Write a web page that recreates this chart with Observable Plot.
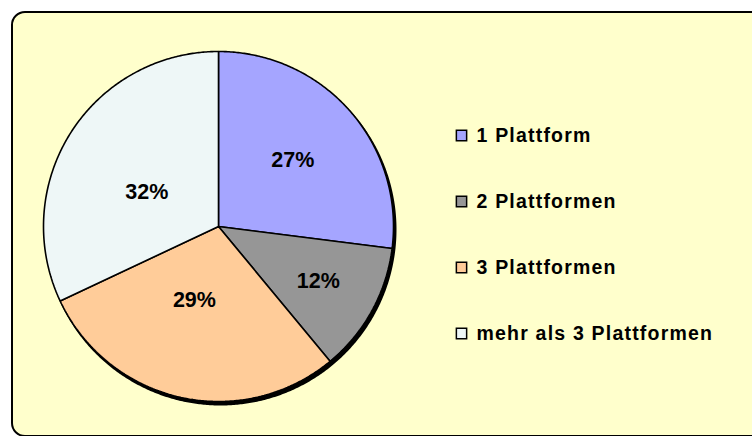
<!DOCTYPE html>
<html>
<head>
<meta charset="utf-8">
<script src="https://cdn.jsdelivr.net/npm/d3@7"></script>
<script src="https://cdn.jsdelivr.net/npm/@observablehq/plot@0.6"></script>
<style>
  html, body { margin: 0; padding: 0; background: #ffffff; overflow: hidden; }
  #wrap { position: relative; width: 752px; height: 436px; overflow: hidden; }
  #frame { position: absolute; left: 11px; top: 11px; width: 820px; height: 426px;
           box-sizing: border-box; background: #FFFFCC; border: 2px solid #000; border-radius: 14px; }
  #chart { position: absolute; left: 0; top: 0; }
  #chart svg { background: transparent; }
</style>
</head>
<body>
<div id="wrap"><div id="frame"></div><div id="chart"></div></div>
<script>
// ---- data ----
const categories = ["1 Plattform", "2 Plattformen", "3 Plattformen", "mehr als 3 Plattformen"];
const values = [27, 12, 29, 32];
const percentLabels = ["27%", "12%", "29%", "32%"];
const colors = ["#A5A5FF", "#969696", "#FFCC99", "#EEF7F7"];

// ---- layout (pixels) ----
const W = 752, H = 436;
const cx = 218, cy = 226, R = 175;
const labelNudge = [[-3, 2], [0, 0], [-2, -25], [11, 18]]; // px nudges from slice centroid (x right, y down)
const legendX = 461, legendTextX = 476, legendTop = 135, legendStep = 66;

// build slice polygons from values
const total = d3.sum(values);
const slices = [];
const labelsData = [];
let acc = 0;
values.forEach((v, i) => {
  const a0 = acc / total * 2 * Math.PI;
  acc += v;
  const a1 = acc / total * 2 * Math.PI;
  slices.push({cat: categories[i], x: 0, y: 0});
  const n = Math.max(2, Math.ceil((a1 - a0) / (Math.PI / 360)));
  for (let k = 0; k <= n; k++) {
    const a = a0 + (a1 - a0) * k / n;
    slices.push({cat: categories[i], x: Math.sin(a), y: Math.cos(a)});
  }
  const half = (a1 - a0) / 2, mid = a0 + half;
  const rc = 2 * Math.sin(half) / (3 * half);
  labelsData.push({
    label: percentLabels[i],
    x: rc * Math.sin(mid) + labelNudge[i][0] / R,
    y: rc * Math.cos(mid) - labelNudge[i][1] / R
  });
});
const shadow = d3.range(0, 721).map(k => ({x: Math.sin(k / 720 * 2 * Math.PI), y: Math.cos(k / 720 * 2 * Math.PI)}));

const toX = px => (px - cx) / R;
const toY = py => (cy - py) / R;
const legend = categories.map((c, i) => ({cat: c, y: toY(legendTop + i * legendStep)}));

const font = "'Liberation Sans', Arial, Helvetica, sans-serif";

const plot = Plot.plot({
  width: W, height: H,
  marginLeft: cx - R, marginRight: W - (cx + R),
  marginTop: cy - R, marginBottom: H - (cy + R),
  x: {domain: [-1, 1], axis: null},
  y: {domain: [-1, 1], axis: null},
  color: {type: "ordinal", domain: categories, range: colors},
  style: {background: "transparent", fontFamily: font},
  marks: [
    Plot.line(shadow, {x: "x", y: "y", fill: "#000", stroke: "#000", strokeWidth: 2, dx: 2, dy: 3, curve: "linear-closed"}),
    Plot.line(slices, {x: "x", y: "y", z: "cat", fill: "cat", stroke: "#000", strokeWidth: 1.6, curve: "linear-closed", strokeLinejoin: "miter"}),
    Plot.text(labelsData, {x: "x", y: "y", text: "label", fontSize: 21.5, fontWeight: "bold", fill: "#000", fontFamily: font}),
    Plot.dot(legend, {x: () => toX(legendX), y: "y", symbol: "square", r: 5.8, fill: "cat", stroke: "#000", strokeWidth: 1.5}),
    Plot.text(legend, {x: () => toX(legendTextX), y: "y", text: "cat", textAnchor: "start", fontSize: 19.5, fontWeight: "bold", fill: "#000", fontFamily: font})
  ]
});
document.getElementById("chart").appendChild(plot);
// letter spacing for legend labels (second text mark)
const textGroups = plot.querySelectorAll('g[aria-label="text"]');
if (textGroups.length > 1) textGroups[1].setAttribute("letter-spacing", "1.2px");
</script>
</body>
</html>
